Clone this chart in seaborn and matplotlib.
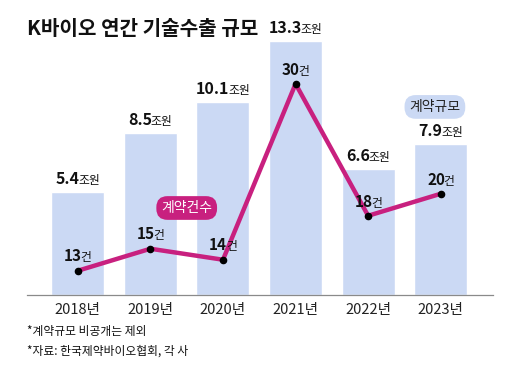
import matplotlib
matplotlib.use("Agg")
import matplotlib.pyplot as plt
import seaborn as sns
import numpy as np
from matplotlib.offsetbox import TextArea, HPacker, AnnotationBbox

years = ["2018년", "2019년", "2020년", "2021년", "2022년", "2023년"]
size_tn = [5.4, 8.5, 10.1, 13.3, 6.6, 7.9]      # 계약규모 (조원)
deals = [13, 15, 14, 30, 18, 20]                # 계약건수 (건)

bar_color = "#cbd9f4"
line_color = "#c8207f"

sns.set_theme(style="white")
plt.rcParams["font.family"] = ["Noto Sans CJK KR", "DejaVu Sans"]

fig = plt.figure(figsize=(5.2, 3.84), dpi=100)
ax = fig.add_axes([0.052, 0.232, 0.896, 0.69])

sns.barplot(x=years, y=size_tn, color=bar_color, saturation=1, width=0.73, ax=ax)
ax.set_xlim(-0.70, 5.72)
ax.set_ylim(0, 13.87)

for s in ["top", "right", "left"]:
    ax.spines[s].set_visible(False)
ax.spines["bottom"].set_color("#8a8a8a")
ax.spines["bottom"].set_linewidth(0.9)
ax.set_yticks([])
ax.set_xlabel("")
ax.set_ylabel("")
ax.tick_params(axis="x", which="major", length=0, pad=6, labelsize=10.5, labelcolor="#222222")
ax.set_xticks(np.arange(0.5, 5, 1), minor=True)
ax.tick_params(axis="x", which="minor", direction="in", length=5, color="#8a8a8a", width=0.9)

num_font = dict(family=["Liberation Sans Narrow", "Noto Sans CJK KR"], weight="bold", size=11.5, color="#111111")
unit_font = dict(family=["Noto Sans CJK KR"], size=8.5, color="#111111")


def two_part(axis, x, y, num, unit, dy, nsize=11.5):
    nf = dict(num_font, size=nsize)
    box = HPacker(children=[TextArea(num, textprops=nf), TextArea(unit, textprops=unit_font)],
                  align="baseline", pad=0, sep=-1)
    ab = AnnotationBbox(box, (x, y), xybox=(0, dy), xycoords="data", boxcoords="offset points",
                        box_alignment=(0.5, 0), frameon=False, annotation_clip=False)
    axis.add_artist(ab)


for i, v in enumerate(size_tn):
    two_part(ax, i, v, f"{v:.1f}", "조원", 3.5)

ax2 = ax.twinx()
pos = np.arange(len(deals))
sns.lineplot(x=pos, y=deals, color=line_color, linewidth=3.2, ax=ax2)
ax2.scatter(pos, deals, s=20, color="black", zorder=5)
ax2.set_ylim(10.8, 34.9)
ax2.set_yticks([])
for s in ax2.spines.values():
    s.set_visible(False)

for i, v in enumerate(deals):
    two_part(ax2, i, v, str(v), "건", 4.5, nsize=11)

ax.text(1.50, 4.55, "계약건수", ha="center", va="center", fontsize=10, color="white",
        bbox=dict(boxstyle="round,pad=0.35,rounding_size=0.8", fc=line_color, ec="none"), zorder=6)
ax.text(4.92, 9.84, "계약규모", ha="center", va="center", fontsize=10, color="#222222",
        bbox=dict(boxstyle="round,pad=0.35,rounding_size=0.8", fc=bar_color, ec="none"), zorder=6)

fig.text(0.052, 0.925, "K바이오 연간 기술수출 규모", fontsize=14.5, weight="bold", color="#111111", va="center")
fig.text(0.052, 0.138, "*계약규모 비공개는 제외", fontsize=8.5, color="#111111", va="center")
fig.text(0.052, 0.086, "*자료: 한국제약바이오협회, 각 사", fontsize=8.5, color="#111111", va="center")

fig.savefig("out.png", dpi=100)
